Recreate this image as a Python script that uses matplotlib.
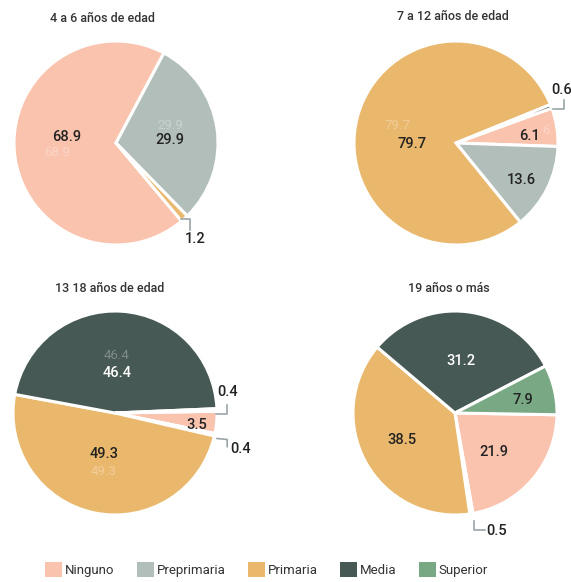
import matplotlib
matplotlib.use('Agg')
import matplotlib.pyplot as plt
from matplotlib.patches import Patch

plt.rcParams['font.family'] = ['Roboto', 'DejaVu Sans']

# categorias y colores
categorias = ['Ninguno', 'Preprimaria', 'Primaria', 'Media', 'Superior']
colores = ['#fac3ae', '#b2beb9', '#eab86c', '#475954', '#79a984']

titulos = ['4 a 6 años de edad', '7 a 12 años de edad', '13 18 años de edad', '19 años o más']

# porcentajes por grupo de edad (0 = no aparece)
edad_4_6 = [68.9, 29.9, 1.2, 0, 0]
edad_7_12 = [6.1, 13.6, 79.7, 0.6, 0]
edad_13_18 = [3.5, 0.4, 49.3, 46.4, 0.4]
edad_19_mas = [21.9, 0.5, 38.5, 31.2, 7.9]
grupos = [edad_4_6, edad_7_12, edad_13_18, edad_19_mas]

# --- layout (pixeles de la figura) ---
W, H = 571, 582
centros = [(116, 143), (456, 143), (115, 413), (455, 413)]
radio = 102
angulos = [-50, 20, 1, -1]
titulo_pos = [(102, 18), (453, 17), (110, 288), (449, 288)]

# posicion de etiquetas en unidades del radio, por categoria
etiq_pos = [
    {0: (-0.48, 0.06), 1: (0.53, 0.03), 2: (0.78, -0.94)},
    {0: (0.72, 0.07), 1: (0.64, -0.36), 2: (-0.43, -0.01), 3: (1.04, 0.52)},
    {0: (0.80, -0.12), 1: (1.23, -0.35), 2: (-0.11, -0.40), 3: (0.02, 0.39), 4: (1.10, 0.21)},
    {0: (0.38, -0.38), 1: (0.41, -1.16), 2: (-0.52, -0.26), 3: (0.06, 0.51), 4: (0.67, 0.13)},
]
# etiquetas "fantasma" tenues
fantasma = [
    {0: (-0.58, -0.09), 1: (0.53, 0.17)},
    {0: (0.93, 0.12), 2: (-0.57, 0.17)},
    {2: (-0.11, -0.57), 3: (0.02, 0.56)},
    {},
]
# lineas guia para valores pequenos
guias = [
    [[(0.64, -0.75), (0.73, -0.75), (0.73, -0.85)]],
    [[(0.95, 0.33), (1.06, 0.33), (1.06, 0.42)]],
    [[(0.99, -0.01), (1.10, -0.01), (1.10, 0.08)],
     [(1.00, -0.25), (1.10, -0.26), (1.10, -0.33)]],
    [[(0.19, -1.06), (0.19, -1.15), (0.29, -1.15)]],
]

fig = plt.figure(figsize=(W / 100, H / 100), dpi=100)

for i, valores in enumerate(grupos):
    cx, cy = centros[i]
    ax = fig.add_axes([(cx - radio) / W, (H - cy - radio) / H, 2 * radio / W, 2 * radio / H])
    idx = [k for k, v in enumerate(valores) if v > 0]
    ax.pie([valores[k] for k in idx], colors=[colores[k] for k in idx],
           startangle=angulos[i], counterclock=False, radius=1,
           wedgeprops=dict(edgecolor='white', linewidth=2.2))
    ax.set_xlim(-1, 1)
    ax.set_ylim(-1, 1)
    ax.set_aspect('auto')
    ax.axis('off')

    for k, (x, y) in fantasma[i].items():
        ax.text(x, y, f'{valores[k]:.1f}', ha='center', va='center', fontsize=9.5,
                color='white', alpha=0.3)
    for k, (x, y) in etiq_pos[i].items():
        col = 'white' if k == 3 and valores[k] > 5 else '#222222'
        ax.text(x, y, f'{valores[k]:.1f}', ha='center', va='center', fontsize=10.5,
                color=col, fontweight='medium')
    for g in guias[i]:
        xs = [p[0] for p in g]
        ys = [p[1] for p in g]
        ax.plot(xs, ys, color='#9aa5a8', lw=1.2, solid_joinstyle='round', clip_on=False)

    tx, ty = titulo_pos[i]
    fig.text(tx / W, 1 - ty / H, titulos[i], ha='center', va='center', fontsize=9,
             color='#333333', fontweight='medium')

handles = [Patch(facecolor=c, edgecolor='none') for c in colores]
fig.legend(handles, categorias, loc='lower center', ncol=5, frameon=False,
           bbox_to_anchor=(0.467, -0.012), fontsize=9.5, handlelength=1.3,
           handleheight=1.4, handletextpad=0.2, columnspacing=1.7,
           labelcolor='#333333')

plt.savefig('out.png', dpi=100)
